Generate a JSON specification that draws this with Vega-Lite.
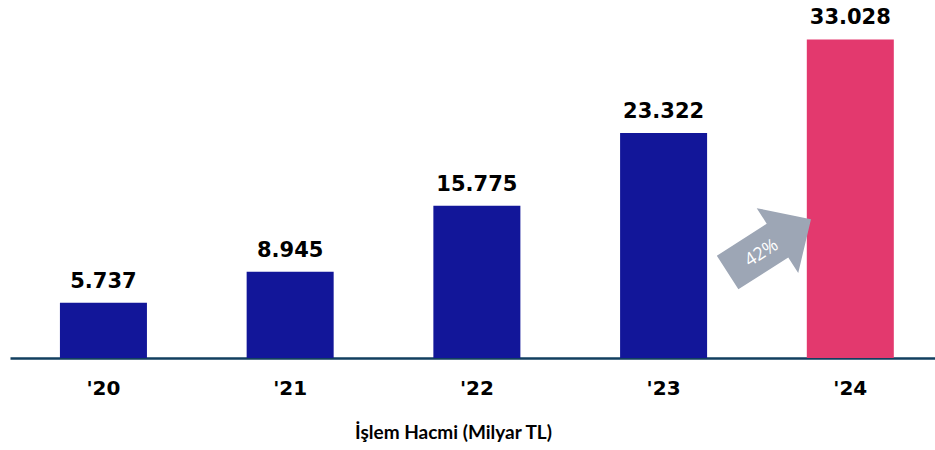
{
  "$schema": "https://vega.github.io/schema/vega-lite/v6.json",
  "width": 925,
  "height": 328,
  "autosize": {"type": "none"},
  "padding": {"left": 10, "top": 30, "right": 0, "bottom": 92},
  "background": "white",
  "config": {"view": {"stroke": null}},
  "data": {"values": [
    {"year": "'20", "value": 5.737},
    {"year": "'21", "value": 8.945},
    {"year": "'22", "value": 15.775},
    {"year": "'23", "value": 23.322},
    {"year": "'24", "value": 33.028}
  ]},
  "encoding": {
    "x": {
      "field": "year", "type": "nominal", "sort": null,
      "scale": {"paddingInner": 0.534, "paddingOuter": 0.244, "align": 0.548},
      "axis": {
        "title": "İşlem Hacmi (Milyar TL)",
        "labelAngle": 0, "ticks": false, "grid": false,
        "domainColor": "#123f5f", "domainWidth": 2.5,
        "labelFont": "DejaVu Sans", "labelFontWeight": "bold", "labelFontSize": 20, "labelColor": "#000000",
        "labelPadding": 20,
        "titleFont": "Lato", "titleFontWeight": "bold", "titleFontSize": 19, "titleColor": "#000000",
        "titlePadding": 25, "titleX": 443
      }
    }
  },
  "layer": [
    {
      "mark": {"type": "bar"},
      "encoding": {
        "y": {"field": "value", "type": "quantitative", "scale": {"domain": [0, 34], "nice": false}, "axis": null},
        "color": {"condition": {"test": "datum.year === \"'24\"", "value": "#e3396e"}, "value": "#121699"}
      }
    },
    {
      "mark": {"type": "text", "font": "DejaVu Sans", "fontWeight": "bold", "fontSize": 21, "baseline": "alphabetic", "dy": -15, "color": "#000000"},
      "encoding": {
        "y": {"field": "value", "type": "quantitative"},
        "text": {"field": "value", "type": "quantitative", "format": ".3f"}
      }
    },
    {
      "data": {"values": [{}]},
      "mark": {"type": "point", "filled": true, "opacity": 1, "strokeWidth": 0, "color": "#9da6b5",
        "shape": "M-1,-0.404 L0.196,-0.404 L0.196,-0.778 L1,0 L0.196,0.778 L0.196,0.404 L-1,0.404 Z",
        "size": 9801, "angle": 327.4},
      "encoding": {
        "x": {"datum": "'23", "bandPosition": 1.715},
        "y": {"datum": 11.63, "type": "quantitative"}
      }
    },
    {
      "data": {"values": [{}]},
      "mark": {"type": "text", "font": "Open Sans", "fontSize": 18, "color": "#ffffff", "angle": 327.4, "align": "center", "baseline": "middle"},
      "encoding": {
        "x": {"datum": "'23", "bandPosition": 1.629},
        "y": {"datum": 10.85, "type": "quantitative"},
        "text": {"value": "42%"}
      }
    }
  ]
}
